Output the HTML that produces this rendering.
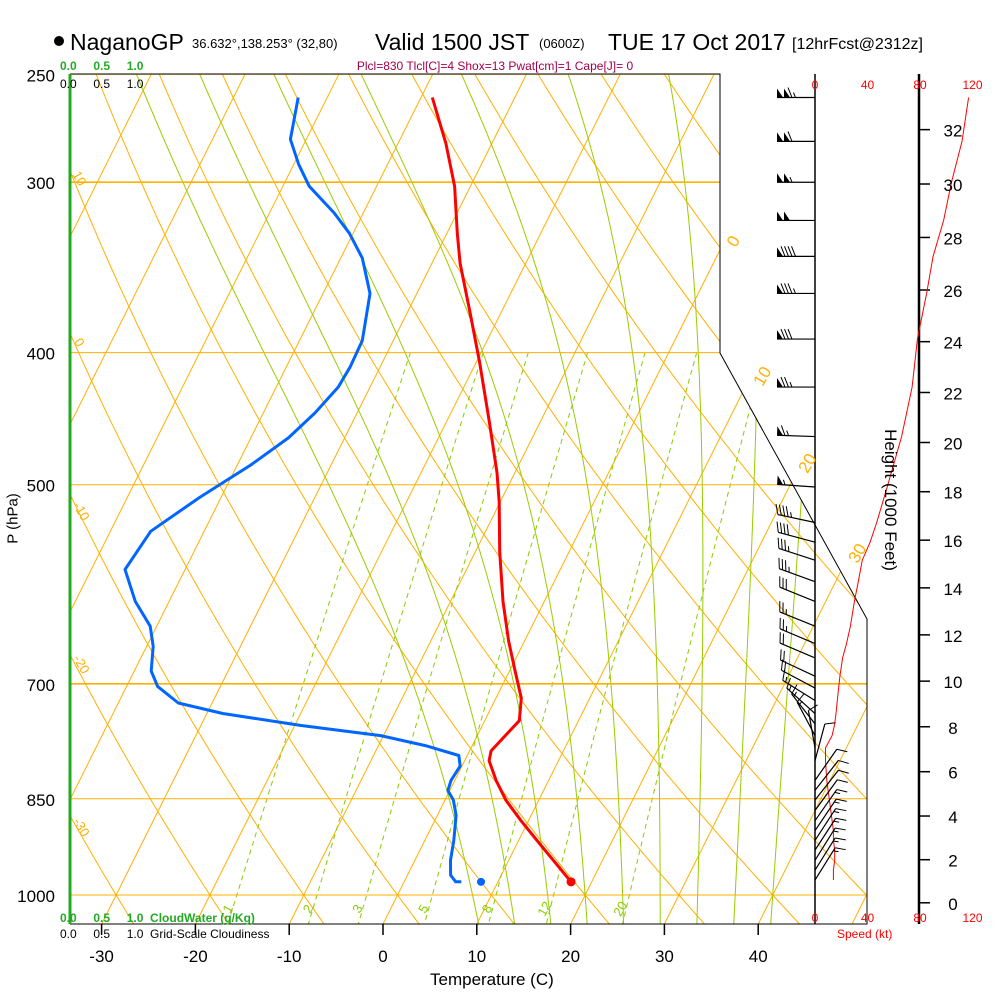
<!DOCTYPE html>
<html><head><meta charset="utf-8"><title>NaganoGP Skew-T</title>
<style>
html,body{margin:0;padding:0;background:#fff;}
svg{display:block;font-family:"Liberation Sans",Arial,sans-serif;}
</style></head>
<body>
<svg id="chart" width="1000" height="1000" viewBox="0 0 1000 1000" xmlns="http://www.w3.org/2000/svg">
<defs><clipPath id="plotclip"><polygon points="70,74 720,74 720,353 867,619 867,924 70,924"/></clipPath></defs>
<rect x="0" y="0" width="1000" height="1000" fill="#fff"/>
<!-- Title -->
<g>
<circle cx="59" cy="41" r="5" fill="#000"/>
<text x="70" y="50" font-size="23">NaganoGP</text>
<text x="192" y="48" font-size="13">36.632°,138.253° (32,80)</text>
<text x="375" y="50" font-size="23">Valid 1500 JST</text>
<text x="539" y="48" font-size="13">(0600Z)</text>
<text x="608" y="50" font-size="23">TUE 17 Oct 2017</text>
<text x="792" y="49" font-size="16">[12hrFcst@2312z]</text>
</g>
<text x="495" y="70" font-size="12" fill="#a0004a" text-anchor="middle">Plcl=830 Tlcl[C]=4 Shox=13 Pwat[cm]=1 Cape[J]= 0</text>
<g id="grid" clip-path="url(#plotclip)"></g>
<g id="series" clip-path="url(#plotclip)"></g>
<g id="frame"></g>
<g id="winds"></g>
<g id="labels"></g>
</svg>
<script>
// ---- data ----
const tempP = [260,281,302,327,344,374,407,450,490,515,560,609,651,685,717,745,764,784,797,824,852,882,919,948,978];
const tempC = [-38.8,-34.9,-31.7,-28.9,-27.0,-23.3,-19.6,-15.4,-11.9,-10.1,-7.4,-4.4,-1.7,0.6,2.7,3.7,3.0,2.3,2.6,4.4,6.5,9.2,12.6,15.2,17.8];
const dewP = [260,279,291,302,316,327,341,362,392,410,424,443,462,484,511,541,577,609,635,657,685,703,723,736,751,764,777,790,804,824,838,852,874,912,943,967,978,978];
const dewC = [-53.1,-51.7,-49.5,-47.2,-43.1,-40.4,-37.7,-35.0,-33.3,-33.2,-33.4,-34.5,-36.0,-38.6,-42.3,-45.7,-46.4,-43.6,-40.7,-39.3,-38.2,-36.7,-33.6,-28.3,-19.3,-10.3,-5.0,-0.9,-0.2,-0.4,-0.2,0.9,2.0,3.1,3.8,4.6,5.5,6.1];
const sfcP = 978, sfcT = 17.8, sfcTd = 8.2;
const windP = [260,280,300,320,340,362,391,424,461,502,533,551,568,589,609,635,654,670,691,705,720,736,749,764,780,797,824,838,852,867,882,897,912,927,943,959,975];
const windSpd = [117,112,104,98,90,85,78,74,66,55,47,42,36,33,30,27,24,21,19,18,17,16,15,13,8,8,9,10,11,12,13,14,14,15,15,14,14];
const windDir = [270,270,270,270,270,270,270,270,272,274,282,285,288,290,292,292,293,293,295,298,302,312,322,332,350,15,35,38,38,36,35,34,33,33,32,32,32];
const tempTicks = [-30,-20,-10,0,10,20,30,40];
const pressTicks = [250,300,400,500,700,850,1000];
const heightTicks = [0,2,4,6,8,10,12,14,16,18,20,22,24,26,28,30,32];
const speedTicks = [0,40,80,120];
const mixRatios = [1,2,3,5,8,12,20];

// ---- axes ----
const NS="http://www.w3.org/2000/svg";
function yP(p){return 895-592*Math.log(1000/p);}
function xT(T,p){return 383+9.38*T+0.5*(924-yP(p));}
function xSpd(s){return 815+s*1.3125;}
function pFromFt(kft){const h=kft*304.8;return 1013.25*Math.pow(1-2.25577e-5*h,5.25588);}
function mk(tag,attrs,parent){const e=document.createElementNS(NS,tag);for(const k in attrs)e.setAttribute(k,attrs[k]);parent.appendChild(e);return e;}
const grid=document.getElementById('grid'),series=document.getElementById('series'),frame=document.getElementById('frame'),winds=document.getElementById('winds'),labels=document.getElementById('labels');
function poly(pts,attrs,parent){const d=pts.map((q,i)=>(i?'L':'M')+q[0].toFixed(1)+','+q[1].toFixed(1)).join('');const e=mk('path',Object.assign({d:d,fill:'none'},attrs),parent);return e;}
const pList=[];for(let p=240;p<=1060;p+=5)pList.push(p);

// isotherms
for(let T=-90;T<=50;T+=10){
 const l=poly([[xT(T,1060),yP(1060)],[xT(T,240),yP(240)]],{stroke:'#ffb000','stroke-width':1},grid);
 
 
}
// dry adiabats
for(let th=-40;th<=180;th+=10){
 const pts=pList.map(p=>{const T=(th+273.15)*Math.pow(p/1000,0.2857)-273.15;return [xT(T,p),yP(p)];});
 const l=poly(pts,{stroke:'#ffb000','stroke-width':1},grid);
 
 
}
// moist adiabats
function es(Tc){return 6.112*Math.exp(17.67*Tc/(Tc+243.5));}
function dTdp(Tk,p){const e=es(Tk-273.15);const rs=0.622*e/(p-e);const Lv=2.5e6,Rd=287,cp=1004;return (Rd*Tk+Lv*rs)/(p*(cp+Lv*Lv*rs*0.622/(Rd*Tk*Tk)));}
for(let tw=8;tw<=40;tw+=4){
 const up=[];let T=tw+273.15;for(let p=1000;p>=240;p-=2){up.push([xT(T-273.15,p),yP(p)]);T-=dTdp(T,p)*2;}
 const dn=[];T=tw+273.15;for(let p=1000;p<=1060;p+=2){dn.push([xT(T-273.15,p),yP(p)]);T+=dTdp(T,p)*2;}
 const pts=dn.reverse().concat(up);
 const l=poly(pts,{stroke:'#99cc00','stroke-width':1},grid);
 
 
}
// mixing ratio lines
mixRatios.forEach(w=>{
 const pts=[];for(let p=400;p<=1060;p+=10){const e=w*p/(622+w);const a=Math.log(e/6.112);const Td=243.5*a/(17.67-a);pts.push([xT(Td,p),yP(p)]);}
 const l=poly(pts,{stroke:'#88cc00','stroke-width':1,'stroke-dasharray':'5,4'},grid);
 
 
 const e=w*1000/(622+w),a=Math.log(e/6.112),Td=243.5*a/(17.67-a);
 const t=mk('text',{x:xT(Td,1030).toFixed(1),y:913,'font-size':13,fill:'#88cc00','text-anchor':'middle',transform:'rotate(-60 '+xT(Td,1030).toFixed(1)+' 909)'},labels);
 t.textContent=w;
 
 
});
// isobars
pressTicks.forEach(p=>{
 const y=yP(p);
 const l=poly([[70,y],[870,y]],{stroke:'#ffb000','stroke-width':(p==300||p==700)?1.6:1},grid);
 
 
 const t=mk('text',{x:55,y:(p==250?y+7:y+7),'font-size':17,'text-anchor':'end',fill:'#000'},labels);
 t.textContent=p;
 
 
});
// temperature series
const tl=poly(tempP.map((p,i)=>[xT(tempC[i],p),yP(p)]),{stroke:'#ff0000','stroke-width':3,'stroke-linejoin':'round'},series);


const dl=poly(dewP.map((p,i)=>[xT(dewC[i],p),yP(p)]),{stroke:'#0066ff','stroke-width':3,'stroke-linejoin':'round'},series);


const sd1=mk('circle',{cx:xT(sfcT,sfcP),cy:yP(sfcP),r:4.5,fill:'#ff0000'},series);


const sd2=mk('circle',{cx:xT(sfcTd,sfcP),cy:yP(sfcP),r:4,fill:'#0066ff'},series);



// frame
poly([[70,74],[720,74],[720,353],[867,619],[867,924],[70,924]],{stroke:'#000','stroke-width':1},frame);
const cw=mk('line',{x1:70,y1:74,x2:70,y2:924,stroke:'#22aa22','stroke-width':3},frame);


mk('line',{x1:815,y1:74,x2:815,y2:924,stroke:'#000','stroke-width':1.5},frame);
mk('line',{x1:919,y1:74,x2:919,y2:924,stroke:'#000','stroke-width':2.5},frame);
// temperature ticks
tempTicks.forEach(T=>{
 const x=383+9.38*T;
 mk('line',{x1:x,y1:924,x2:x,y2:935,stroke:'#000','stroke-width':1.5},frame);
 const t=mk('text',{x:x,y:962,'font-size':17,'text-anchor':'middle'},labels);
 t.textContent=T;
 
 
});
// height ticks
heightTicks.forEach(h=>{
 const y=yP(pFromFt(h));
 mk('line',{x1:919,y1:y,x2:930,y2:y,stroke:'#000','stroke-width':1.5},frame);
 const t=mk('text',{x:953,y:y+7,'font-size':17,'text-anchor':'middle'},labels);
 t.textContent=h;
 
 
});
// speed ticks
speedTicks.forEach(s=>{
 const x=xSpd(s);
 const a=mk('text',{x:x,y:89,'font-size':12,'text-anchor':'middle',fill:'#ff0000'},labels);
 a.textContent=s;
 
 
 const b=mk('text',{x:x,y:922,'font-size':12,'text-anchor':'middle',fill:'#ff0000'},labels);
 b.textContent=s;
 
 
});
// wind speed line
const sl=poly(windP.map((p,i)=>[xSpd(windSpd[i]),yP(p)]),{stroke:'#ff0000','stroke-width':1},frame);


// wind barbs
windP.forEach((p,i)=>{
 const bx=815,by=yP(p),L=38,r=windDir[i]*Math.PI/180;
 const ux=Math.sin(r),uy=-Math.cos(r);const px=-uy,py=ux;
 const tx=bx+L*ux,ty=by+L*uy;
 const g=mk('g',{},winds);
 
 
 mk('line',{x1:bx,y1:by,x2:tx,y2:ty,stroke:'#000','stroke-width':1.2},g);
 let s=Math.round(windSpd[i]/5)*5,pos=0;
 const pt=d=>[tx-ux*d,ty-uy*d];
 while(s>=50){const a=pt(pos),c=pt(pos+6);mk('polygon',{points:a[0]+','+a[1]+' '+(a[0]+px*9)+','+(a[1]+py*9)+' '+c[0]+','+c[1],fill:'#000'},g);pos+=7;s-=50;}
 if(pos>0)pos+=1;
 while(s>=10){const a=pt(pos);mk('line',{x1:a[0],y1:a[1],x2:a[0]+px*10+ux*4,y2:a[1]+py*10+uy*4,stroke:'#000','stroke-width':1},g);pos+=3.5;s-=10;}
 if(s>=5){if(pos==0)pos=3.5;const a=pt(pos);mk('line',{x1:a[0],y1:a[1],x2:a[0]+px*5+ux*2,y2:a[1]+py*5+uy*2,stroke:'#000','stroke-width':1},g);}
});

// isotherm labels (right edge) and dry-adiabat labels (left edge)
[[0,733,247],[10,762,382],[20,807,469],[30,857,559]].forEach(a=>{
 const t=mk('text',{x:a[1],y:a[2],'font-size':17,fill:'#ffb000','text-anchor':'middle',transform:'rotate(-60 '+a[1]+' '+(a[2]-6)+')'},labels);
 t.textContent=a[0];
 
 
});
[['10',80,183],['0',80,347],['-10',82,516],['-20',82,669],['-30',82,832]].forEach(a=>{
 const t=mk('text',{x:a[1],y:a[2],'font-size':13,fill:'#ffb000','text-anchor':'middle',transform:'rotate(60 '+a[1]+' '+(a[2]-5)+')'},labels);
 t.textContent=a[0];
 
 
});
</script>
<svg width="0" height="0"></svg>
<div style="position:absolute;left:0;top:0;width:1000px;height:1000px;pointer-events:none;font-family:'Liberation Sans',Arial,sans-serif;">
<div style="position:absolute;left:60px;top:59px;font-size:12px;font-weight:bold;color:#22aa22;">0.0&nbsp;&nbsp;&nbsp;&nbsp;&nbsp;0.5&nbsp;&nbsp;&nbsp;&nbsp;&nbsp;1.0</div>
<div style="position:absolute;left:60px;top:77px;font-size:12px;color:#000;">0.0&nbsp;&nbsp;&nbsp;&nbsp;&nbsp;0.5&nbsp;&nbsp;&nbsp;&nbsp;&nbsp;1.0</div>
<div style="position:absolute;left:60px;top:911px;font-size:12px;font-weight:bold;color:#22aa22;">0.0&nbsp;&nbsp;&nbsp;&nbsp;&nbsp;0.5&nbsp;&nbsp;&nbsp;&nbsp;&nbsp;1.0&nbsp;&nbsp;CloudWater (g/Kg)</div>
<div style="position:absolute;left:60px;top:927px;font-size:12px;color:#000;">0.0&nbsp;&nbsp;&nbsp;&nbsp;&nbsp;0.5&nbsp;&nbsp;&nbsp;&nbsp;&nbsp;1.0&nbsp;&nbsp;Grid-Scale Cloudiness</div>
<div style="position:absolute;left:430px;top:970px;font-size:17px;">Temperature (C)</div>
<div style="position:absolute;left:837px;top:927px;font-size:12px;color:#ff0000;">Speed (kt)</div>
<div style="position:absolute;left:-22px;top:510px;width:70px;text-align:center;font-size:15px;transform:rotate(-90deg);">P (hPa)</div>
<div style="position:absolute;left:810px;top:490px;width:160px;text-align:center;font-size:17px;transform:rotate(90deg);">Height (1000 Feet)</div>
</div>
</body></html>
